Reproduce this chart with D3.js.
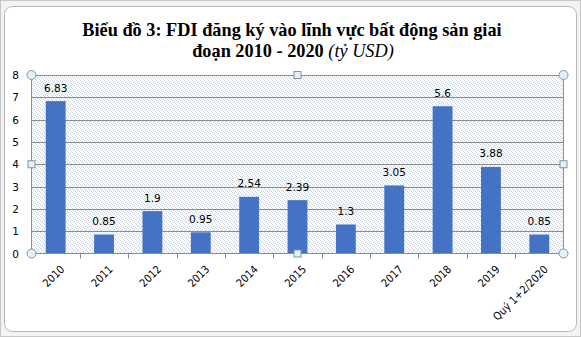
<!DOCTYPE html>
<html><head><meta charset="utf-8">
<script src="https://cdn.jsdelivr.net/npm/d3@7"></script>
<style>html,body{margin:0;padding:0;background:#fff;}svg{display:block;}</style>
</head><body>
<svg id="c" width="581" height="337"></svg>
<script>
const categories = ["2010","2011","2012","2013","2014","2015","2016","2017","2018","2019","Quý 1+2/2020"];
const values = [6.83, 0.85, 1.9, 0.95, 2.54, 2.39, 1.3, 3.05, 6.6, 3.88, 0.85];
const labels = ["6.83","0.85","1.9","0.95","2.54","2.39","1.3","3.05","5.6","3.88","0.85"];
const yTicks = [0,1,2,3,4,5,6,7,8];
const titleLine1 = "Biểu đồ 3: FDI đăng ký vào lĩnh vực bất động sản giai";
const titleLine2a = "đoạn 2010 - 2020 ";
const titleLine2b = "(tỷ USD)";

const svg = d3.select("#c");
// outer frame
svg.append("rect").attr("x",0.5).attr("y",0.5).attr("width",580).attr("height",336).attr("fill","#f3f3f3").attr("stroke","#c8c8c8");
svg.append("rect").attr("x",4.5).attr("y",6.5).attr("width",572).attr("height",325).attr("rx",8)
  .attr("fill","#fff").attr("stroke","#b8b8b8");

const defs = svg.append("defs");
const pat = defs.append("pattern").attr("id","dots").attr("patternUnits","userSpaceOnUse").attr("width",4).attr("height",4);
pat.append("rect").attr("width",4).attr("height",4).attr("fill","#fafbfd");
[[0,0],[2,1],[1,2],[3,3]].forEach(([x,y])=>pat.append("rect").attr("x",x).attr("y",y).attr("width",1).attr("height",1).attr("fill","#cbd7e6"));

const L=31.5, R=563.5, T=75, B=253.5;
const x = d3.scaleBand().domain(categories).range([L,R]).paddingInner(0.59).paddingOuter(0.295);
const xb = d3.scaleBand().domain(categories).range([L,R]);
const y = d3.scaleLinear().domain([0,8]).range([B,T]);

svg.append("rect").attr("x",L).attr("y",T).attr("width",R-L).attr("height",B-T).attr("fill","url(#dots)");

// gridlines
svg.append("g").selectAll("line").data(yTicks.filter(d=>d>0)).join("line")
  .attr("x1",L).attr("x2",R).attr("y1",d=>Math.round(y(d))+0.5).attr("y2",d=>Math.round(y(d))+0.5)
  .attr("stroke","#8c8c8c").attr("stroke-width",1);

// bars
svg.append("g").selectAll("rect").data(values).join("rect")
  .attr("x",(d,i)=>x(categories[i])).attr("width",x.bandwidth())
  .attr("y",d=>y(d)).attr("height",d=>B-y(d)).attr("fill","#4472c4");

// data labels
svg.append("g").selectAll("text").data(labels).join("text")
  .attr("x",(d,i)=>x(categories[i])+x.bandwidth()/2).attr("y",(d,i)=>y(values[i])-9.5)
  .attr("text-anchor","middle").attr("font-family","DejaVu Sans").attr("font-size",10.5).attr("fill","#000").text(d=>d);

// axes
svg.append("line").attr("x1",L).attr("x2",L).attr("y1",T).attr("y2",B).attr("stroke","#8c8c8c");
svg.append("line").attr("x1",L).attr("x2",R).attr("y1",B).attr("y2",B).attr("stroke","#8c8c8c");
svg.append("line").attr("x1",R).attr("x2",R).attr("y1",T).attr("y2",B).attr("stroke","#8c8c8c");
// x ticks
svg.append("g").selectAll("line").data(categories.slice(1)).join("line")
  .attr("x1",d=>Math.round(xb(d))+0.5).attr("x2",d=>Math.round(xb(d))+0.5).attr("y1",B).attr("y2",B+5).attr("stroke","#8c8c8c");

// y tick labels
svg.append("g").selectAll("text").data(yTicks).join("text")
  .attr("x",19).attr("y",d=>y(d)+4).attr("text-anchor","end")
  .attr("font-family","DejaVu Sans").attr("font-size",10.5).attr("fill","#000").text(d=>d);

// x labels
svg.append("g").selectAll("text").data(categories).join("text")
  .attr("transform",d=>`translate(${xb(d)+xb.bandwidth()/2+4},${B+11}) rotate(-45)`)
  .attr("text-anchor","end").attr("dy","0.7em")
  .attr("font-family","'DejaVu Sans Condensed','Liberation Sans',sans-serif").attr("font-size",11).attr("fill","#000").text(d=>d);

// title
const t = svg.append("g").attr("font-family","Liberation Serif").attr("font-size",18.3).attr("text-anchor","middle");
t.append("text").attr("x",292).attr("y",35.5).attr("font-weight","bold").text(titleLine1);
const t2 = t.append("text").attr("x",293).attr("y",56.5);
t2.append("tspan").attr("font-weight","bold").text(titleLine2a);
t2.append("tspan").attr("font-style","italic").text(titleLine2b);

// selection handles
const hs = [[L,T],[R,T],[L,B],[R,B]];
svg.append("g").selectAll("circle").data(hs).join("circle")
  .attr("cx",d=>d[0]).attr("cy",d=>d[1]).attr("r",4.5).attr("fill","#e6f0f4").attr("stroke","#7b97a8");
const sq = [[(L+R)/2,T],[(L+R)/2,B],[L,(T+B)/2],[R,(T+B)/2]];
svg.append("g").selectAll("rect").data(sq).join("rect")
  .attr("x",d=>d[0]-3.5).attr("y",d=>d[1]-3.5).attr("width",7).attr("height",7).attr("fill","#e6f0f4").attr("stroke","#7b97a8");
</script>
</body></html>
